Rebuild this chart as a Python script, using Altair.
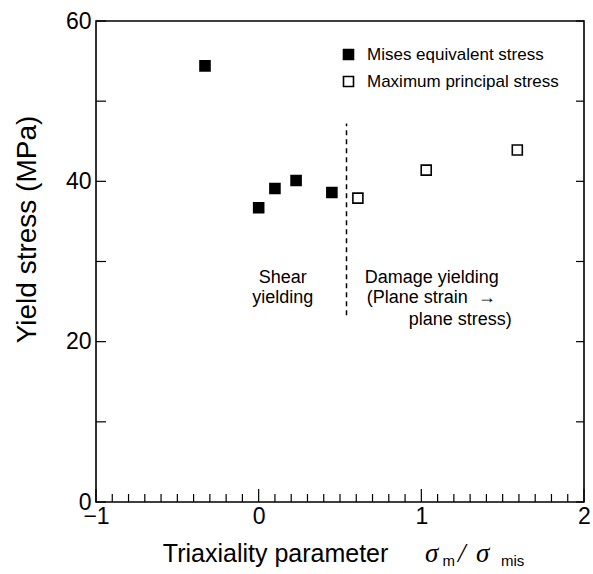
import altair as alt
import pandas as pd

# ---- data ----
mises_x = [-0.33, 0.00, 0.10, 0.23, 0.45]
mises_y = [54.4, 36.7, 39.1, 40.1, 38.6]
maxp_x = [0.61, 1.03, 1.59]
maxp_y = [37.9, 41.4, 43.9]
series_names = ["Mises equivalent stress", "Maximum principal stress"]

boundary_x = [0.54]
boundary_y = [23.3]
boundary_y2 = [47.2]

x_labels = [-1, 0, 1, 2]
y_labels = [0, 20, 40, 60]
x_minor = [-1.0, -0.9, -0.8, -0.7, -0.6, -0.5, -0.4, -0.3, -0.2, -0.1, 0.0,
           0.1, 0.2, 0.3, 0.4, 0.5, 0.6, 0.7, 0.8, 0.9, 1.0,
           1.1, 1.2, 1.3, 1.4, 1.5, 1.6, 1.7, 1.8, 1.9, 2.0]
y_ticks = [0, 10, 20, 30, 40, 50, 60]

ann_center_text = ["Shear", "yielding"]
ann_center_x = [0.148, 0.148]
ann_center_y = [28.0, 25.4]
ann_left_text = ["Damage yielding", "(Plane strain\u00a0\u00a0\u2192", "plane stress)"]
ann_left_x = [0.652, 0.664, 0.922]
ann_left_y = [28.0, 25.4, 22.7]

xt_main_text = ["Triaxiality parameter"]
xt_main_x = [0.104]
xt_sigma_text = ["\u03c3", "/", "\u03c3"]
xt_sigma_x = [1.063, 1.248, 1.377]
xt_sub_text = ["m", "mis"]
xt_sub_x = [1.168, 1.561]

W, H = 488, 481
FONT = "Liberation Sans"

xs = alt.Scale(domain=[-1, 2], nice=False, zero=False)
ys = alt.Scale(domain=[0, 60], nice=False, zero=False)

x_axis = alt.Axis(
    values=x_labels, ticks=False, domain=False, grid=False, title=None,
    labelFontSize=23, labelFont=FONT, labelColor="black", labelPadding=3,
    labelFlush=False)
y_axis = alt.Axis(
    values=y_labels, ticks=False, domain=False, grid=False,
    title="Yield stress (MPa)", titleFontSize=28, titleFont=FONT,
    titleFontWeight="normal", titleColor="black",
    titleX=-69, titleY=208, titleBaseline="middle", titleAngle=270,
    labelFontSize=23, labelFont=FONT, labelColor="black", labelPadding=5,
    labelFlush=False)

pts = pd.DataFrame({
    "x": mises_x + maxp_x,
    "y": mises_y + maxp_y,
    "series": [series_names[0]] * len(mises_x) + [series_names[1]] * len(maxp_x),
})

points = alt.Chart(pts).mark_point(
    shape="square", filled=True, size=100, stroke="black", strokeWidth=1.6, opacity=1
).encode(
    x=alt.X("x:Q", scale=xs, axis=x_axis),
    y=alt.Y("y:Q", scale=ys, axis=y_axis),
    fill=alt.Fill("series:N", scale=alt.Scale(domain=series_names, range=["black", "white"]),
                  legend=alt.Legend(
                      orient="none", legendX=244, legendY=25, title=None,
                      symbolType="square", symbolSize=100, symbolStrokeColor="black",
                      symbolStrokeWidth=1.6, labelFontSize=17, labelFont=FONT,
                      labelColor="black", labelOffset=10, rowPadding=9, labelLimit=400)),
)

bdf = pd.DataFrame({"x": boundary_x, "y": boundary_y, "y2": boundary_y2})
boundary = alt.Chart(bdf).mark_rule(color="black", strokeWidth=1.5, strokeDash=[5, 4]).encode(
    x=alt.X("x:Q", scale=xs, axis=x_axis),
    y=alt.Y("y:Q", scale=ys, axis=y_axis),
    y2="y2:Q",
)

# inward ticks
xdf = pd.DataFrame({"x": x_minor, "major": [abs(v - round(v)) < 1e-9 for v in x_minor]})
xt_minor = alt.Chart(xdf).transform_filter("!datum.major").mark_rule(color="black", strokeWidth=1.2).encode(
    x=alt.X("x:Q", scale=xs, axis=x_axis), y=alt.value(H), y2=alt.value(H - 8))
xt_major = alt.Chart(xdf).transform_filter("datum.major").mark_rule(color="black", strokeWidth=1.2).encode(
    x=alt.X("x:Q", scale=xs, axis=x_axis), y=alt.value(H), y2=alt.value(H - 13))

ydf = pd.DataFrame({"y": y_ticks})
yt_left = alt.Chart(ydf).mark_rule(color="black", strokeWidth=1.2).encode(
    y=alt.Y("y:Q", scale=ys, axis=y_axis), x=alt.value(0), x2=alt.value(10))
yt_right = alt.Chart(ydf).mark_rule(color="black", strokeWidth=1.2).encode(
    y=alt.Y("y:Q", scale=ys, axis=y_axis), x=alt.value(W), x2=alt.value(W - 8))

# annotations
acdf = pd.DataFrame({"t": ann_center_text, "x": ann_center_x, "y": ann_center_y})
ann_c = alt.Chart(acdf).mark_text(align="center", baseline="middle", fontSize=18, font=FONT, color="black").encode(
    x=alt.X("x:Q", scale=xs, axis=x_axis), y=alt.Y("y:Q", scale=ys, axis=y_axis), text="t:N")
aldf = pd.DataFrame({"t": ann_left_text, "x": ann_left_x, "y": ann_left_y})
ann_l = alt.Chart(aldf).mark_text(align="left", baseline="middle", fontSize=18, font=FONT, color="black").encode(
    x=alt.X("x:Q", scale=xs, axis=x_axis), y=alt.Y("y:Q", scale=ys, axis=y_axis), text="t:N")

# x-axis title pieces
tm = alt.Chart(pd.DataFrame({"t": xt_main_text, "x": xt_main_x})).mark_text(
    align="center", baseline="middle", fontSize=25, font=FONT, color="black").encode(
    x=alt.X("x:Q", scale=xs, axis=x_axis), y=alt.value(533), text="t:N")
tsig = alt.Chart(pd.DataFrame({"t": xt_sigma_text, "x": xt_sigma_x})).mark_text(
    align="center", baseline="middle", fontSize=27, font="Liberation Serif", fontStyle="italic",
    color="black").encode(
    x=alt.X("x:Q", scale=xs, axis=x_axis), y=alt.value(533), text="t:N")
tsub = alt.Chart(pd.DataFrame({"t": xt_sub_text, "x": xt_sub_x})).mark_text(
    align="center", baseline="middle", fontSize=15, font=FONT, color="black").encode(
    x=alt.X("x:Q", scale=xs, axis=x_axis), y=alt.value(540), text="t:N")

chart = alt.layer(
    xt_minor, xt_major, yt_left, yt_right, boundary, points, ann_c, ann_l, tm, tsig, tsub
).properties(
    width=W, height=H,
    autosize=alt.AutoSizeParams(type="none"),
    padding={"left": 96, "top": 21, "right": 9, "bottom": 72},
    background="white",
).configure_view(
    stroke="black", strokeWidth=1.6
)

chart.save("out.html", embed_options={"renderer": "svg", "actions": False})
